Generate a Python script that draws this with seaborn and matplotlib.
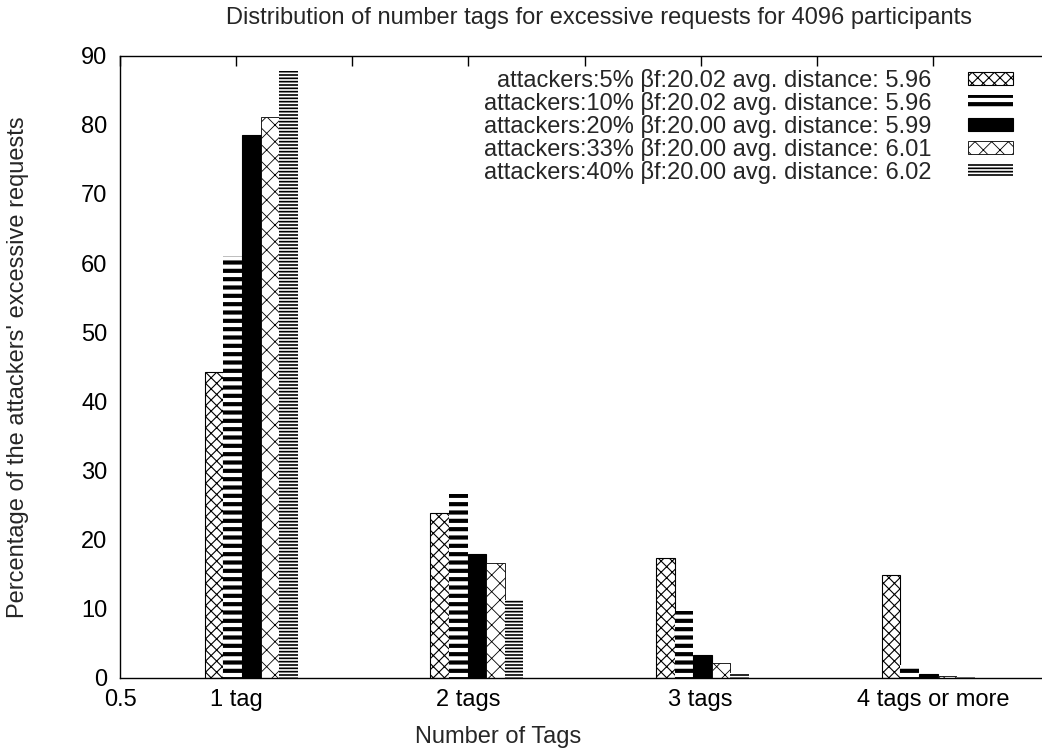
import numpy as np
import pandas as pd
import matplotlib
matplotlib.use("Agg")
import matplotlib.pyplot as plt
import seaborn as sns

# ---------------- data ----------------
categories = ["1 tag", "2 tags", "3 tags", "4 tags or more"]
series_labels = [
    "attackers:5% βf:20.02 avg. distance: 5.96",
    "attackers:10% βf:20.02 avg. distance: 5.96",
    "attackers:20% βf:20.00 avg. distance: 5.99",
    "attackers:33% βf:20.00 avg. distance: 6.01",
    "attackers:40% βf:20.00 avg. distance: 6.02",
]
att5 = [44.2, 23.9, 17.3, 14.8]
att10 = [61.0, 26.6, 9.7, 1.8]
att20 = [78.5, 17.9, 3.3, 0.5]
att33 = [81.1, 16.6, 2.1, 0.3]
att40 = [87.8, 11.3, 0.7, 0.15]
x_tick_values = [0.5, 1, 2, 3, 4]
x_tick_labels = ["0.5", "1 tag", "2 tags", "3 tags", "4 tags or more"]
y_ticks = [0, 10, 20, 30, 40, 50, 60, 70, 80, 90]

title = "Distribution of number tags for excessive requests for 4096 participants"
xlabel = "Number of Tags"
ylabel = "Percentage of the attackers' excessive requests"

series_values = [att5, att10, att20, att33, att40]
rows = []
for lab, vals in zip(series_labels, series_values):
    for cat, v in zip(categories, vals):
        rows.append({"tags": cat, "pct": v, "series": lab})
df = pd.DataFrame(rows)

# ---------------- style ----------------
sns.set_theme(style="white")
FONT = ["Liberation Sans", "DejaVu Sans"]
plt.rcParams["font.family"] = FONT
plt.rcParams["xtick.direction"] = "in"
plt.rcParams["ytick.direction"] = "in"
plt.rcParams["xtick.top"] = True
plt.rcParams["ytick.right"] = False
FS = 17

W, H = 1042, 753
fig = plt.figure(figsize=(W / 100, H / 100), dpi=100)
left_px, right_px, top_px, bot_px = 120, 1049, 55.7, 677.7
ax = fig.add_axes([left_px / W, 1 - bot_px / H, (right_px - left_px) / W, (bot_px - top_px) / H])

# mapping from reference axis units to categorical positions
OFF, SCALE = 1.065, 0.9717
def c(r):
    return (np.asarray(r, dtype=float) - OFF) / SCALE

sns.barplot(data=df, x="tags", y="pct", hue="series", order=categories,
            hue_order=series_labels, width=0.4 / SCALE, dodge=True, gap=0,
            palette=["white"] * 5, legend=False, ax=ax, saturation=1,
            edgecolor="black", linewidth=0)

styles = [
    dict(hatch="xxx", fc="white", lw=0.8, hlw=0.8),
    dict(hatch="--", fc="white", lw=0.0, hlw=3.0),
    dict(hatch=None, fc="black", lw=0.8, hlw=1.0),
    dict(hatch="xx", fc="white", lw=0.6, hlw=0.6),
    dict(hatch="-----", fc="white", lw=0.0, hlw=1.2),
]

def apply_style(p, st):
    p.set_facecolor(st["fc"])
    p.set_edgecolor("black")
    p.set_linewidth(st["lw"])
    if st["hatch"]:
        p.set_hatch(st["hatch"])
    if hasattr(p, "set_hatch_linewidth"):
        p.set_hatch_linewidth(st["hlw"])
    p._hatch_linewidth = st["hlw"]

for cont, st in zip(ax.containers, styles):
    for p in cont.patches:
        apply_style(p, st)

# axes
ax.set_ylim(0, 90)
ax.set_yticks(y_ticks)
ax.set_yticklabels([str(v) for v in y_ticks], fontsize=FS)
major = np.arange(0.5, 4.51, 0.5)
ax.set_xticks(c(major))
lab_map = dict(zip(x_tick_values, x_tick_labels))
ax.set_xticklabels([lab_map.get(float(m), "") for m in major], fontsize=FS)
ax.set_xlim(c(0.5), c(4.5))
ax.tick_params(axis="both", length=7, width=1.0, colors="black", labelcolor="black")
ax.tick_params(axis="x", pad=8)
ax.tick_params(axis="y", pad=9)
ax.set_xlabel("")
ax.set_ylabel("")
for s in ax.spines.values():
    s.set_visible(True)
    s.set_color("black")
    s.set_linewidth(1.0)

# legend
handles = []
for st in styles:
    r = matplotlib.patches.Rectangle((0, 0), 1, 1)
    apply_style(r, st)
    handles.append(r)
leg = ax.legend(handles, series_labels, loc="upper right", markerfirst=False,
                frameon=False, fontsize=FS, handlelength=1.9, handleheight=0.5,
                handletextpad=1.55, labelspacing=0.0, borderpad=0, borderaxespad=0,
                bbox_to_anchor=(1013 / W, 1 - 69 / H), bbox_transform=fig.transFigure)
for h, st in zip(leg.legend_handles, styles):
    apply_style(h, st)

fig.text(599 / W, 1 - 18 / H, title, ha="center", va="center", fontsize=FS)
fig.text(498 / W, 1 - 737 / H, xlabel, ha="center", va="center", fontsize=FS)
fig.text(18 / W, 1 - 367 / H, ylabel, ha="center", va="center", rotation=90, fontsize=FS)

fig.savefig("out.png", dpi=100)
